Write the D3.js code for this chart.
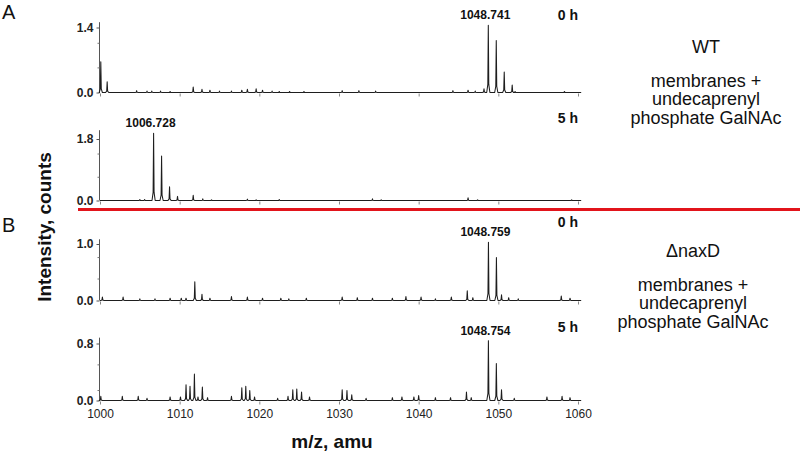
<!DOCTYPE html>
<html lang="en">
<head>
  <meta charset="UTF-8">
  <style>
    body {
      margin: 0;
      padding: 0;
      background: #ffffff;
      font-family: "Liberation Sans", Arial, sans-serif;
    }
    #chart {
      display: block;
      width: 800px;
      height: 453px;
    }
  </style>
</head>
<body>
  <svg id="chart"></svg>

  <script src="https://d3js.org/d3.v7.min.js"></script>
  <script>
    // data
    const mzTicks = [1000, 1010, 1020, 1030, 1040, 1050, 1060];
    const panelMax = [1.4, 1.8, 1.0, 0.8];
    const panelMinor = [[0.53, 1.06], [0.68, 1.36], [0.38, 0.76], [0.14, 0.5]];
    const timeLabels = ["0 h", "5 h", "0 h", "5 h"];
    const peakLabels = ["1048.741", "1006.728", "1048.759", "1048.754"];
    const peakLabelMz = [1048.741, 1006.728, 1048.759, 1048.754];
    const sectionLetters = ["A", "B"];
    const strainLabels = ["WT", "\u0394naxD"];
    const conditionLines = ["membranes +", "undecaprenyl", "phosphate GalNAc"];

    // [m/z, intensity] peaks for each panel
    const peaksWT0 = [
      [1000.1, 0.66], [1000.9, 0.23], [1004.6, 0.04], [1005.9, 0.03], [1006.5, 0.03],
      [1007.6, 0.03], [1008.8, 0.02], [1011.7, 0.12], [1012.8, 0.07], [1013.8, 0.05],
      [1015.0, 0.03], [1016.5, 0.03], [1017.8, 0.05], [1018.5, 0.07], [1019.6, 0.08],
      [1020.4, 0.05], [1021.6, 0.03], [1022.5, 0.02], [1023.8, 0.02], [1025.6, 0.02],
      [1030.4, 0.04], [1032.5, 0.04], [1034.6, 0.03], [1044.3, 0.04], [1046.2, 0.05],
      [1047.1, 0.03], [1048.2, 0.08], [1048.741, 1.45], [1049.74, 1.12], [1050.74, 0.44],
      [1051.74, 0.16], [1052.1, 0.02], [1058.3, 0.02]
    ];
    const peaksWT5 = [
      [1005.0, 0.03], [1005.6, 0.03], [1006.728, 1.97], [1007.73, 1.30], [1008.73, 0.40],
      [1009.73, 0.12], [1011.7, 0.15], [1012.9, 0.05], [1014.0, 0.02], [1018.5, 0.04],
      [1019.6, 0.02], [1022.5, 0.03], [1034.2, 0.05], [1035.3, 0.02], [1046.2, 0.08],
      [1047.4, 0.02], [1059.2, 0.02]
    ];
    const peaksNax0 = [
      [1000.3, 0.06], [1002.9, 0.06], [1005.0, 0.03], [1006.9, 0.03], [1008.8, 0.04],
      [1010.2, 0.04], [1010.8, 0.04], [1011.9, 0.33], [1012.8, 0.11], [1013.8, 0.04],
      [1016.5, 0.07], [1018.5, 0.06], [1020.4, 0.04], [1022.7, 0.04], [1023.7, 0.03],
      [1025.9, 0.04], [1030.4, 0.06], [1032.3, 0.05], [1034.2, 0.04], [1036.7, 0.04],
      [1038.4, 0.07], [1040.3, 0.06], [1042.1, 0.03], [1044.1, 0.06], [1046.1, 0.17],
      [1046.8, 0.05], [1048.759, 1.03], [1049.76, 0.76], [1050.4, 0.10], [1051.3, 0.05],
      [1052.5, 0.03], [1057.9, 0.08], [1059.0, 0.04]
    ];
    const peaksNax5 = [
      [1000.1, 0.06], [1002.8, 0.06], [1004.8, 0.06], [1005.9, 0.03], [1008.8, 0.05],
      [1010.1, 0.05], [1010.8, 0.22], [1011.3, 0.20], [1011.85, 0.37], [1012.3, 0.05],
      [1012.85, 0.19], [1013.5, 0.04], [1016.5, 0.06], [1017.8, 0.18], [1018.3, 0.20],
      [1018.8, 0.14], [1019.4, 0.05], [1022.3, 0.03], [1023.6, 0.06], [1024.2, 0.15],
      [1024.7, 0.16], [1025.3, 0.12], [1026.3, 0.05], [1030.4, 0.15], [1031.0, 0.14],
      [1031.6, 0.08], [1033.4, 0.03], [1036.7, 0.04], [1037.9, 0.05], [1039.4, 0.05],
      [1040.0, 0.07], [1042.1, 0.04], [1044.0, 0.04], [1046.0, 0.12], [1046.6, 0.04],
      [1048.754, 0.84], [1049.75, 0.52], [1050.4, 0.15], [1052.0, 0.03], [1056.1, 0.05],
      [1058.0, 0.06], [1059.0, 0.04]
    ];
    const panelPeaks = [peaksWT0, peaksWT5, peaksNax0, peaksNax5];

    // layout
    const width = 800, height = 453;
    const panelBase = [92.5, 200.5, 300.5, 400.5];
    const panelTop = [27.5, 139, 244, 343.5];

    const svg = d3.select("#chart").attr("viewBox", "0 0 " + width + " " + height);

    const x = d3.scaleLinear().domain([1000, 1060]).range([100, 578]);

    const line = d3.line().x(d => x(d[0])).y(d => d[1]);

    panelPeaks.forEach((peaks, i) => {
      const y = d3.scaleLinear().domain([0, panelMax[i]]).range([panelBase[i], panelTop[i]]);
      const g = svg.append("g");
      const highest = d3.max(peaks, d => d[1]);

      // y axis line
      g.append("line")
        .attr("x1", x(1000) - 0.5).attr("x2", x(1000) - 0.5)
        .attr("y1", y(0))
        .attr("y2", Math.min(y(panelMax[i]), y(highest)) - 3)
        .attr("stroke", "#555").attr("stroke-width", 1);

      // y ticks
      const yAxis = d3.axisLeft(y)
        .tickValues([0, panelMax[i]])
        .tickSize(3)
        .tickPadding(3)
        .tickFormat(d3.format(".1f"));
      const ya = g.append("g")
        .attr("transform", "translate(" + (x(1000) - 0.5) + ",0)")
        .call(yAxis);
      ya.select(".domain").remove();
      ya.selectAll("line").attr("stroke", "#555");
      ya.selectAll("text")
        .attr("font-family", "Liberation Sans, Arial, sans-serif")
        .attr("font-size", 12)
        .attr("font-weight", "bold")
        .attr("fill", "#222");

      g.selectAll(".minor")
        .data(panelMinor[i])
        .enter()
        .append("line")
        .attr("x1", x(1000) - 2.5).attr("x2", x(1000) - 0.5)
        .attr("y1", d => y(d)).attr("y2", d => y(d))
        .attr("stroke", "#777");

      // x ticks (small, below baseline)
      const xAxis = d3.axisBottom(x)
        .tickValues(mzTicks)
        .tickSize(3)
        .tickPadding(5)
        .tickFormat(i === 3 ? d3.format("d") : "");
      const xa = g.append("g")
        .attr("transform", "translate(0," + (y(0) + 1) + ")")
        .call(xAxis);
      xa.select(".domain").remove();
      xa.selectAll("line").attr("stroke", "#888");
      xa.selectAll("text")
        .attr("font-family", "Liberation Sans, Arial, sans-serif")
        .attr("font-size", 12)
        .attr("fill", "#222");

      // spectrum trace
      const pts = [[1000, y(0)]];
      peaks.slice().sort((a, b) => a[0] - b[0]).forEach(p => {
        const m = p[0], h = p[1];
        pts.push([m - 0.2, y(0)], [m - 0.06, y(h * 0.12)], [m, y(h)], [m + 0.06, y(h * 0.12)], [m + 0.2, y(0)]);
      });
      pts.push([1060.4, y(0)]);
      g.append("path")
        .attr("d", line(pts))
        .attr("fill", "none")
        .attr("stroke", "#1e1e1e")
        .attr("stroke-width", 1.05)
        .attr("stroke-linejoin", "round");

      // peak label
      const pk = peaks.find(p => p[0] === peakLabelMz[i]);
      g.append("text")
        .attr("x", x(peakLabelMz[i]) - 3)
        .attr("y", y(pk[1]) - 6)
        .attr("text-anchor", "middle")
        .attr("font-size", 12)
        .attr("font-weight", "bold")
        .attr("fill", "#111")
        .text(peakLabels[i]);

      // time label
      g.append("text")
        .attr("x", 578)
        .attr("y", [20, 123, 227, 332][i])
        .attr("text-anchor", "end")
        .attr("font-size", 14)
        .attr("font-weight", "bold")
        .attr("fill", "#111")
        .text(timeLabels[i]);
    });

    // separator
    svg.append("line")
      .attr("x1", 78).attr("x2", 800)
      .attr("y1", 209.5).attr("y2", 209.5)
      .attr("stroke", "#e2141b")
      .attr("stroke-width", 3);

    // section letters
    svg.selectAll(".letter")
      .data(sectionLetters)
      .enter()
      .append("text")
      .attr("x", 2)
      .attr("y", (d, i) => [19, 232][i])
      .attr("font-size", 20)
      .attr("fill", "#111")
      .text(d => d);

    // right-hand annotations
    strainLabels.forEach((s, i) => {
      const cx = [706, 693][i];
      const top = [53, 257][i];
      const t = svg.append("text")
        .attr("text-anchor", "middle")
        .attr("font-size", 18)
        .attr("fill", "#111");
      t.append("tspan").attr("x", cx).attr("y", top).text(s);
      conditionLines.forEach((c, j) => {
        t.append("tspan").attr("x", cx).attr("y", top + 33.5 + j * 18.7).text(c);
      });
    });

    // axis titles
    svg.append("text")
      .attr("transform", "translate(51,227) rotate(-90)")
      .attr("text-anchor", "middle")
      .attr("font-size", 19)
      .attr("font-weight", "bold")
      .attr("fill", "#111")
      .text("Intensity, counts");

    svg.append("text")
      .attr("x", 332)
      .attr("y", 448)
      .attr("text-anchor", "middle")
      .attr("font-size", 19)
      .attr("font-weight", "bold")
      .attr("fill", "#111")
      .text("m/z, amu");
  </script>
</body>
</html>
